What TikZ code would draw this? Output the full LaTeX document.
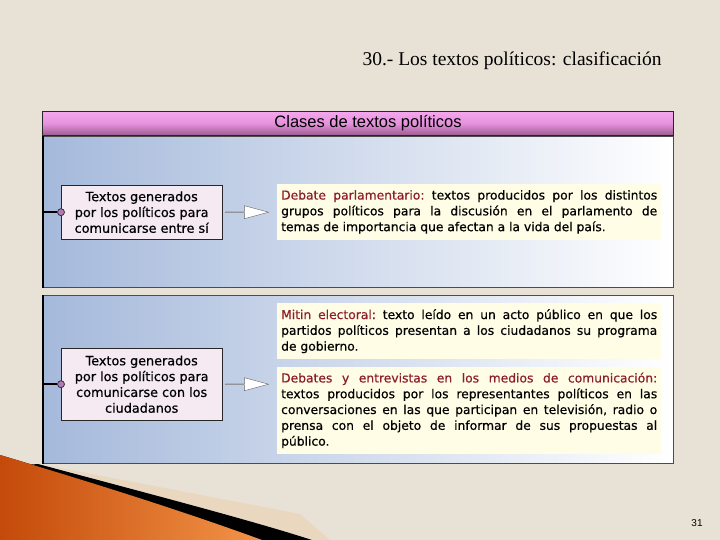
\documentclass[tikz,border=0pt]{standalone}
\usepackage{fontspec}
\newfontfamily\boxfont[FakeBold=0.6]{DejaVu Sans}
\newfontfamily\headfont{Liberation Sans}
\newfontfamily\titlefont{Liberation Serif}
\usetikzlibrary{shapes.arrows,positioning}
\definecolor{paper}{HTML}{E8E1D6}
\definecolor{panelblue}{HTML}{A5B9DB}
\definecolor{headtop}{HTML}{F4A6EE}
\definecolor{headmid}{HTML}{E592DC}
\definecolor{headbot}{HTML}{9A5A90}
\definecolor{boxpink}{HTML}{F5E9F2}
\definecolor{noteyellow}{HTML}{FFFDE6}
\definecolor{lblred}{HTML}{8C1F2A}
\definecolor{dotpurple}{HTML}{B07AB8}
\newcommand{\lbl}[1]{\textcolor{lblred}{#1}}
\tikzset{
    panel/.style={draw=black!70, line width=0.8pt, left color=panelblue, right color=white,
        anchor=north west, minimum width=630pt, inner sep=0pt},
    headbar/.style={draw=black!85, line width=1pt, top color=headtop, bottom color=headbot,
        middle color=headmid, anchor=north west, minimum width=631pt, minimum height=24pt, inner sep=0pt},
    groupbox/.style={draw=black!85, fill=boxpink, anchor=north west, minimum width=161pt,
        align=center, inner sep=0pt, font={\boxfont\fontsize{12.8pt}{15.8pt}\selectfont}},
    notebox/.style={fill=noteyellow, anchor=north west, text width=376pt, align=justify,
        inner xsep=4pt, inner ysep=6pt,
        font={\boxfont\fontsize{12.3pt}{15.8pt}\selectfont\hyphenpenalty=10000\frenchspacing}},
    dot/.style={circle, draw=black!80, fill=dotpurple, minimum size=7pt, inner sep=0pt, line width=0.8pt},
    bigarrow/.style={single arrow, draw=black!60, fill=white, minimum height=43pt, minimum width=13pt,
        single arrow head extend=2.5pt, single arrow tip angle=30, inner sep=0pt}
}

\begin{document}
\begin{tikzpicture}[x=1pt,y=-1pt]
      \fill[paper] (0,0) rectangle (720,540);
      % swoosh bottom left
      \fill[orange!20!paper,opacity=0.5] (50,466) -- (300,514) -- (330,540) -- (315,540) -- cycle;
      \fill[black] (38,464) .. controls (150,494) and (250,520) .. (312,540) -- (0,540) -- (0,467) -- cycle;
      \fill[left color={rgb,255:red,196;green,74;blue,10}, right color={rgb,255:red,243;green,148;blue,72}]
          (0,455) .. controls (90,482) and (180,510) .. (262,540) -- (0,540) -- cycle;
      \node[font={\titlefont\fontsize{19.5pt}{22pt}\selectfont}] (title) at (512,61) {30.- Los textos políticos: clasificación};
      \node[headbar] (head) at (42,111) {};
      \node[font={\headfont\fontsize{16.5pt}{18pt}\selectfont}, xshift=10pt] (headtxt) at (head.center) {Clases de textos políticos};
      \node[panel, minimum height=151pt] (up) at (43,136) {};
      \node[panel, minimum height=168pt] (low) at (43,295) {};
      \draw[line width=2pt] (up.north west) -- (up.south west);
      \draw[line width=2pt] (low.north west) -- (low.south west);
      \node[groupbox, minimum height=54pt] (g1) at (61,185) {Textos generados\\por los políticos para\\comunicarse entre sí};
      \node[groupbox, minimum height=72pt] (g2) at (61,348) {Textos generados\\por los políticos para\\comunicarse con los\\ciudadanos};
      \node[dot] (d1) at (g1.west) {};
      \node[dot] (d2) at (g2.west) {};
      \draw[line width=1.6pt] (up.west |- d1) -- (d1);
      \draw[line width=1.6pt] (low.west |- d2) -- (d2);
      \node[bigarrow, right=3pt of g1] (a1) {};
      \node[bigarrow, right=3pt of g2] (a2) {};
      \node[notebox] (n1) at (277,184) {\lbl{Debate parlamentario:} textos producidos por los distintos\linebreak grupos políticos para la discusión en el parlamento de\linebreak temas de importancia que afectan a la vida del país.};
      \node[notebox] (n2) at (277,303) {\lbl{Mitin electoral:} texto leído en un acto público en que los\linebreak partidos políticos presentan a los ciudadanos su programa\linebreak de gobierno.};
      \node[notebox, below=7pt of n2] (n3) {\lbl{Debates y entrevistas en los medios de comunicación:}\linebreak textos producidos por los representantes políticos en las\linebreak conversaciones en las que participan en televisión, radio o\linebreak prensa con el objeto de informar de sus propuestas al\linebreak público.};
      \node[font={\headfont\fontsize{10pt}{12pt}\selectfont}] (page) at (697,523) {31};
\end{tikzpicture}
\end{document}
